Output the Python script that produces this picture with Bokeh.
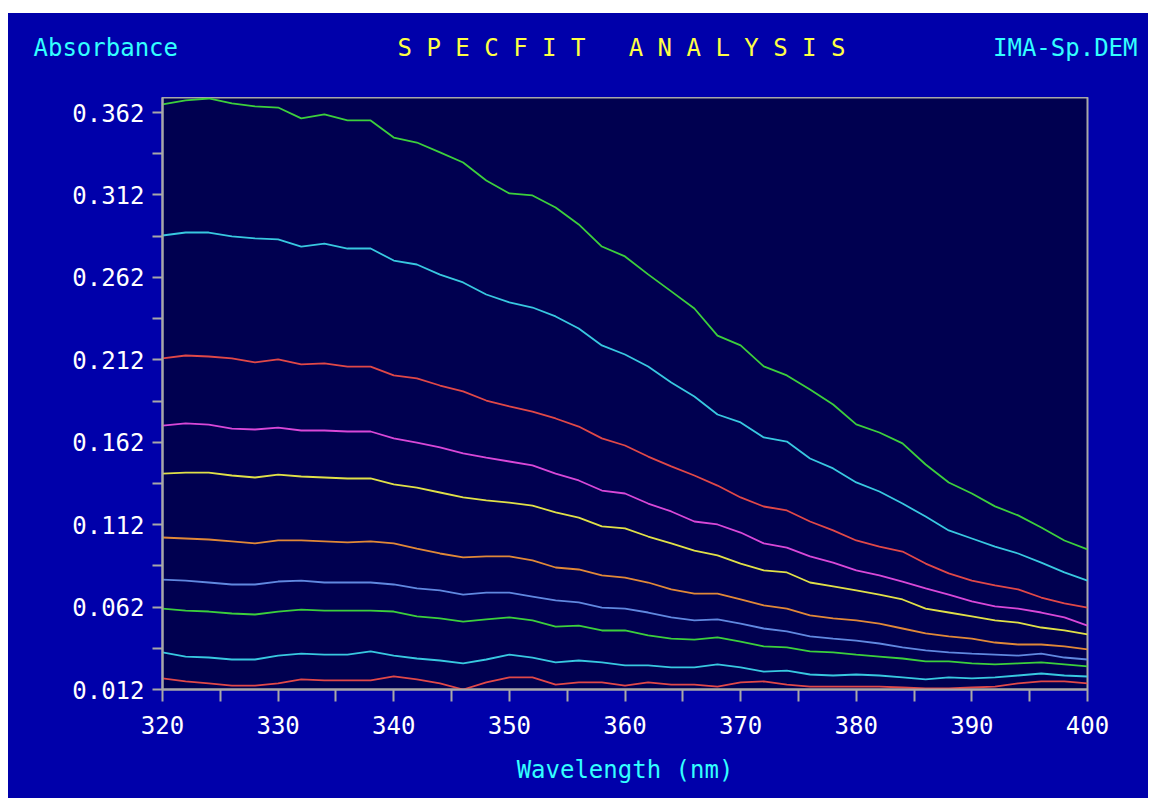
from bokeh.plotting import figure
from bokeh.models import FixedTicker, PrintfTickFormatter, Spacer, Range1d
from bokeh.layouts import column, row
from bokeh.core.properties import value
from bokeh.embed import file_html
from bokeh.resources import INLINE

# ---------------- data ----------------
wavelength = list(range(320, 401, 2))

s1 = [0.3669, 0.3693, 0.3705, 0.3675, 0.3657, 0.3650, 0.3584, 0.3608, 0.3572, 0.3572,
      0.3468, 0.3438, 0.3378, 0.3317, 0.3208, 0.3129, 0.3117, 0.3044, 0.2941, 0.2807,
      0.2747, 0.2638, 0.2535, 0.2431, 0.2267, 0.2207, 0.2080, 0.2025, 0.1940, 0.1849,
      0.1728, 0.1679, 0.1613, 0.1485, 0.1376, 0.1309, 0.1231, 0.1176, 0.1103, 0.1024,
      0.0970]
s2 = [0.2874, 0.2892, 0.2892, 0.2868, 0.2856, 0.2850, 0.2807, 0.2825, 0.2795, 0.2795,
      0.2722, 0.2698, 0.2637, 0.2589, 0.2516, 0.2468, 0.2437, 0.2383, 0.2310, 0.2207,
      0.2152, 0.2079, 0.1982, 0.1897, 0.1788, 0.1740, 0.1649, 0.1624, 0.1521, 0.1461,
      0.1376, 0.1321, 0.1248, 0.1169, 0.1085, 0.1036, 0.0987, 0.0945, 0.0890, 0.0830,
      0.0781]
s3 = [0.2128, 0.2146, 0.2140, 0.2128, 0.2104, 0.2122, 0.2092, 0.2098, 0.2079, 0.2079,
      0.2025, 0.2007, 0.1964, 0.1928, 0.1873, 0.1837, 0.1806, 0.1764, 0.1715, 0.1643,
      0.1600, 0.1533, 0.1473, 0.1418, 0.1357, 0.1285, 0.1230, 0.1206, 0.1139, 0.1085,
      0.1024, 0.0987, 0.0957, 0.0884, 0.0824, 0.0781, 0.0751, 0.0727, 0.0678, 0.0642,
      0.0617]
s4 = [0.1721, 0.1734, 0.1727, 0.1703, 0.1697, 0.1709, 0.1691, 0.1691, 0.1685, 0.1685,
      0.1643, 0.1618, 0.1588, 0.1552, 0.1527, 0.1503, 0.1479, 0.1430, 0.1388, 0.1327,
      0.1309, 0.1248, 0.1200, 0.1139, 0.1121, 0.1072, 0.1006, 0.0981, 0.0927, 0.0890,
      0.0842, 0.0812, 0.0775, 0.0733, 0.0696, 0.0654, 0.0624, 0.0611, 0.0587, 0.0557,
      0.0508]
s5 = [0.1430, 0.1436, 0.1436, 0.1418, 0.1406, 0.1424, 0.1412, 0.1406, 0.1400, 0.1400,
      0.1364, 0.1345, 0.1315, 0.1285, 0.1267, 0.1254, 0.1236, 0.1194, 0.1163, 0.1109,
      0.1097, 0.1048, 0.1006, 0.0963, 0.0933, 0.0884, 0.0842, 0.0830, 0.0769, 0.0745,
      0.0721, 0.0696, 0.0666, 0.0611, 0.0587, 0.0563, 0.0539, 0.0526, 0.0496, 0.0478,
      0.0454]
s6 = [0.1042, 0.1036, 0.1030, 0.1018, 0.1006, 0.1024, 0.1024, 0.1018, 0.1012, 0.1018,
      0.1006, 0.0975, 0.0945, 0.0921, 0.0927, 0.0927, 0.0903, 0.0860, 0.0848, 0.0812,
      0.0799, 0.0769, 0.0727, 0.0702, 0.0702, 0.0666, 0.0630, 0.0611, 0.0569, 0.0551,
      0.0539, 0.0520, 0.0490, 0.0460, 0.0442, 0.0429, 0.0405, 0.0393, 0.0393, 0.0381,
      0.0363]
s7 = [0.0787, 0.0781, 0.0769, 0.0757, 0.0757, 0.0775, 0.0781, 0.0769, 0.0769, 0.0769,
      0.0757, 0.0733, 0.0721, 0.0696, 0.0708, 0.0708, 0.0684, 0.0660, 0.0648, 0.0617,
      0.0611, 0.0587, 0.0557, 0.0539, 0.0545, 0.0520, 0.0490, 0.0472, 0.0442, 0.0429,
      0.0417, 0.0399, 0.0375, 0.0357, 0.0345, 0.0338, 0.0332, 0.0326, 0.0338, 0.0314,
      0.0302]
s8 = [0.0611, 0.0599, 0.0593, 0.0581, 0.0575, 0.0593, 0.0605, 0.0599, 0.0599, 0.0599,
      0.0593, 0.0563, 0.0551, 0.0532, 0.0545, 0.0557, 0.0539, 0.0502, 0.0508, 0.0478,
      0.0478, 0.0448, 0.0429, 0.0423, 0.0436, 0.0411, 0.0381, 0.0375, 0.0351, 0.0345,
      0.0332, 0.0320, 0.0308, 0.0290, 0.0290, 0.0278, 0.0272, 0.0278, 0.0284, 0.0272,
      0.0260]
s9 = [0.0345, 0.0320, 0.0314, 0.0302, 0.0302, 0.0326, 0.0338, 0.0332, 0.0332, 0.0351,
      0.0326, 0.0308, 0.0296, 0.0278, 0.0302, 0.0332, 0.0314, 0.0284, 0.0296, 0.0284,
      0.0266, 0.0266, 0.0254, 0.0254, 0.0272, 0.0254, 0.0229, 0.0235, 0.0211, 0.0205,
      0.0211, 0.0205, 0.0193, 0.0181, 0.0193, 0.0187, 0.0193, 0.0205, 0.0217, 0.0205,
      0.0199]
s10 = [0.0187, 0.0169, 0.0157, 0.0144, 0.0144, 0.0157, 0.0181, 0.0175, 0.0175, 0.0175,
       0.0199, 0.0181, 0.0157, 0.0120, 0.0163, 0.0193, 0.0193, 0.0150, 0.0163, 0.0163,
       0.0144, 0.0163, 0.0150, 0.0150, 0.0138, 0.0163, 0.0169, 0.0150, 0.0138, 0.0138,
       0.0138, 0.0138, 0.0132, 0.0126, 0.0126, 0.0132, 0.0138, 0.0157, 0.0169, 0.0169,
       0.0157]

series = [s1, s2, s3, s4, s5, s6, s7, s8, s9, s10]
series_colors = ["#3ccf3c", "#38c8e0", "#e04848", "#d848d8", "#e0e048",
                 "#e08838", "#6088e0", "#3ccf3c", "#38c8e0", "#e04848"]

x_major_ticks = [320, 330, 340, 350, 360, 370, 380, 390, 400]
x_minor_ticks = [325, 335, 345, 355, 365, 375, 385, 395]
y_major_ticks = [0.012, 0.062, 0.112, 0.162, 0.212, 0.262, 0.312, 0.362]
y_minor_ticks = [0.037, 0.087, 0.137, 0.187, 0.237, 0.287, 0.337]

NB = "\u00a0"
title_text = "S P E C F I T" + NB * 3 + "A N A L Y S I S"
left_text = "Absorbance"
right_text = "IMA-Sp.DEM"
x_label_text = "Wavelength (nm)"

# ---------------- style ----------------
FONT = "DejaVu Sans Mono"
FS = "24px"
OUTER = "#0000aa"
INNER = "#000050"
GREY = "#a8a8a8"
CYAN = "#33ffff"
YELLOW = "#ffff44"

W = 1140
HEAD_H = 84
MAIN_H = 701

# header strip holding the three top texts (separate root, so its frame is the whole strip)
head = figure(width=W, height=HEAD_H, output_backend="svg", toolbar_location=None,
              x_range=Range1d(0, W), y_range=Range1d(0, HEAD_H),
              x_axis_type=None, y_axis_type=None, title=None,
              min_border=0, min_border_left=0, min_border_right=0,
              min_border_top=0, min_border_bottom=0)
head.background_fill_color = OUTER
head.border_fill_color = OUTER
head.outline_line_color = None
head.xgrid.visible = False
head.ygrid.visible = False
head.text(x=[25], y=[50], text=[left_text], text_color=CYAN, text_font=value(FONT),
          text_font_size=FS, text_align="left", text_baseline="middle")
head.text(x=[613], y=[50], text=[title_text], text_color=YELLOW, text_font=value(FONT),
          text_font_size=FS, text_align="center", text_baseline="middle")
head.text(x=[1129], y=[50], text=[right_text], text_color=CYAN, text_font=value(FONT),
          text_font_size=FS, text_align="right", text_baseline="middle")

# main chart
p = figure(width=W, height=MAIN_H, output_backend="svg", toolbar_location=None,
           x_range=Range1d(320, 400), y_range=Range1d(0.012, 0.3711), title=None,
           min_border_left=154, min_border_right=61,
           min_border_top=0, min_border_bottom=109)

p.background_fill_color = INNER
p.border_fill_color = OUTER
p.outline_line_color = GREY
p.outline_line_width = 2
p.xgrid.visible = False
p.ygrid.visible = False

for s, c in zip(series, series_colors):
    p.line(wavelength, s, line_color=c, line_width=1.8)

for ax in (p.xaxis[0], p.yaxis[0]):
    ax.axis_line_color = GREY
    ax.axis_line_width = 2
    ax.major_tick_line_color = GREY
    ax.major_tick_line_width = 2
    ax.minor_tick_line_color = GREY
    ax.minor_tick_line_width = 2
    ax.major_tick_in = 0
    ax.minor_tick_in = 0
    ax.major_label_text_color = "#ffffff"
    ax.major_label_text_font = FONT
    ax.major_label_text_font_size = FS

p.xaxis.ticker = FixedTicker(ticks=x_major_ticks, minor_ticks=x_minor_ticks)
p.yaxis.ticker = FixedTicker(ticks=y_major_ticks, minor_ticks=y_minor_ticks)
p.yaxis.formatter = PrintfTickFormatter(format="%.3f")
p.xaxis.major_tick_out = 12
p.xaxis.minor_tick_out = 12
p.yaxis.major_tick_out = 10
p.yaxis.minor_tick_out = 10
p.xaxis.major_label_standoff = 14
p.yaxis.major_label_standoff = 8

p.xaxis.axis_label = x_label_text
p.xaxis.axis_label_text_color = CYAN
p.xaxis.axis_label_text_font = FONT
p.xaxis.axis_label_text_font_size = FS
p.xaxis.axis_label_text_font_style = "normal"
p.xaxis.axis_label_standoff = 19

blue_bg = {"background-color": OUTER}
top_root = column(Spacer(width=W, height=13),
                  row(Spacer(width=8, height=HEAD_H), row(head, styles=blue_bg)))
main_root = row(Spacer(width=8, height=MAIN_H), row(p, styles=blue_bg))
open("out.html", "w").write(file_html([top_root, main_root], INLINE))
